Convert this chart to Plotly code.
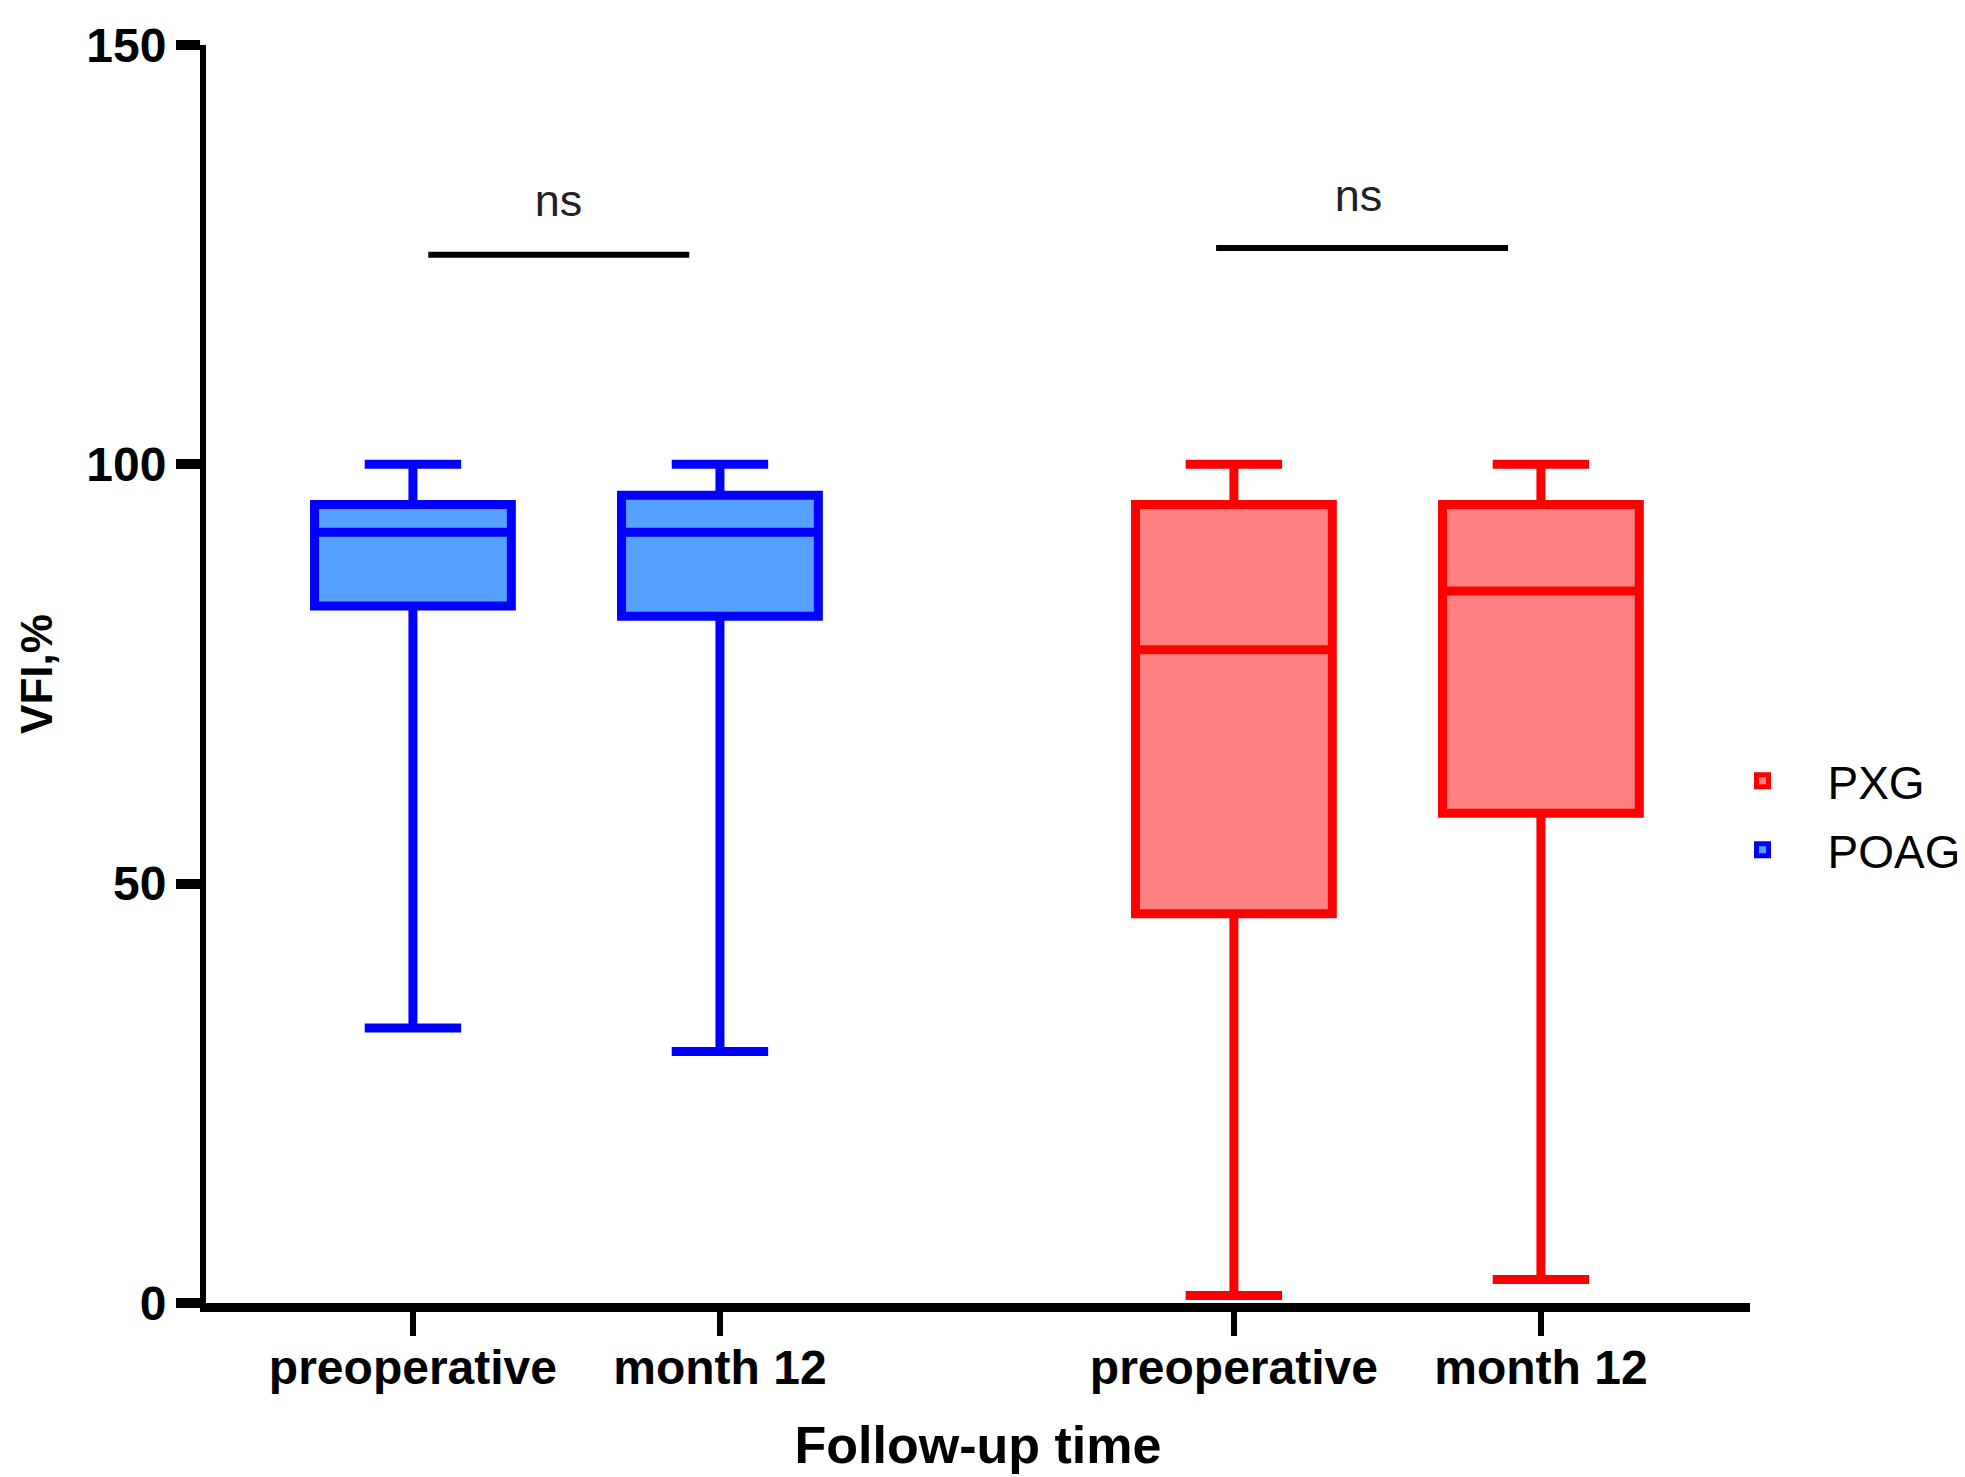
import plotly.graph_objects as go

# ---- data ----
tick_labels = ["preoperative", "month 12", "preoperative", "month 12"]
tick_pos = [0, 1, 2.674, 3.674]

poag_x = [0, 1]
poag_upper = [100, 100]
poag_q3 = [95.2, 96.3]
poag_median = [91.9, 91.9]
poag_q1 = [83.1, 81.9]
poag_lower = [32.8, 30.0]

pxg_x = [2.674, 3.674]
pxg_upper = [100, 100]
pxg_q3 = [95.2, 95.2]
pxg_median = [77.9, 84.9]
pxg_q1 = [46.4, 58.4]
pxg_lower = [0.9, 2.8]

sig_poag_x = [0.05, 0.90]
sig_poag_y = [125.0, 125.0]
sig_pxg_x = [2.616, 3.567]
sig_pxg_y = [125.8, 125.8]
sig_text = ["ns", "ns"]
sig_text_x = [0.474, 3.08]
sig_text_y = [131.0, 131.6]

FONT = "Liberation Sans, Arial, sans-serif"

fig = go.Figure()

fig.add_trace(go.Box(
    name="PXG", legendgroup="pxg", x=pxg_x, q1=pxg_q1, median=pxg_median, q3=pxg_q3,
    lowerfence=pxg_lower, upperfence=pxg_upper,
    width=0.641, whiskerwidth=0.49, boxpoints=False,
    fillcolor="rgb(255,128,128)", line=dict(color="rgb(255,0,0)", width=9),
))
fig.add_trace(go.Box(
    name="POAG", legendgroup="poag", x=poag_x, q1=poag_q1, median=poag_median, q3=poag_q3,
    lowerfence=poag_lower, upperfence=poag_upper,
    width=0.641, whiskerwidth=0.49, boxpoints=False,
    fillcolor="rgb(86,160,255)", line=dict(color="rgb(0,0,255)", width=9),
))

for sx, sy in [(sig_poag_x, sig_poag_y), (sig_pxg_x, sig_pxg_y)]:
    fig.add_trace(go.Scatter(
        x=sx, y=sy, mode="lines", line=dict(color="black", width=6),
        showlegend=False, hoverinfo="skip",
    ))

fig.add_trace(go.Scatter(
    x=sig_text_x, y=sig_text_y, mode="text", text=sig_text,
    textfont=dict(family=FONT, size=45, color="#222222"),
    textposition="middle center", showlegend=False, hoverinfo="skip",
))

fig.update_layout(
    width=1965, height=1477,
    paper_bgcolor="white", plot_bgcolor="white",
    margin=dict(l=198, r=223, t=37, b=182, autoexpand=False),
    boxmode="overlay",
    font=dict(family=FONT, color="black"),
    legend=dict(
        x=0.966, y=0.444, xanchor="left", yanchor="top",
        font=dict(family=FONT, size=46, color="black"),
        bgcolor="rgba(0,0,0,0)", tracegroupgap=6, itemwidth=120,
    ),
    xaxis=dict(
        range=[-0.674, 4.355], showgrid=False, zeroline=False,
        showline=True, linecolor="black", linewidth=9,
        ticks="outside", ticklen=24, tickwidth=6, tickcolor="black",
        tickmode="array", tickvals=tick_pos, ticktext=tick_labels,
        ticklabelstandoff=-10,
        tickfont=dict(family=FONT, size=48, color="black", weight="bold"),
        title=dict(text="Follow-up time", standoff=38,
                   font=dict(family=FONT, size=52, color="black", weight="bold")),
    ),
    yaxis=dict(
        range=[0, 150], showgrid=False, zeroline=False,
        showline=True, linecolor="black", linewidth=6,
        ticks="outside", ticklen=24, tickwidth=10, tickcolor="black",
        tickmode="array", tickvals=[0, 50, 100, 150],
        tickfont=dict(family=FONT, size=48, color="black", weight="bold"),
        title=dict(text="VFI,%", standoff=22,
                   font=dict(family=FONT, size=44, color="black", weight="bold")),
    ),
)

fig.write_html("out.html")
